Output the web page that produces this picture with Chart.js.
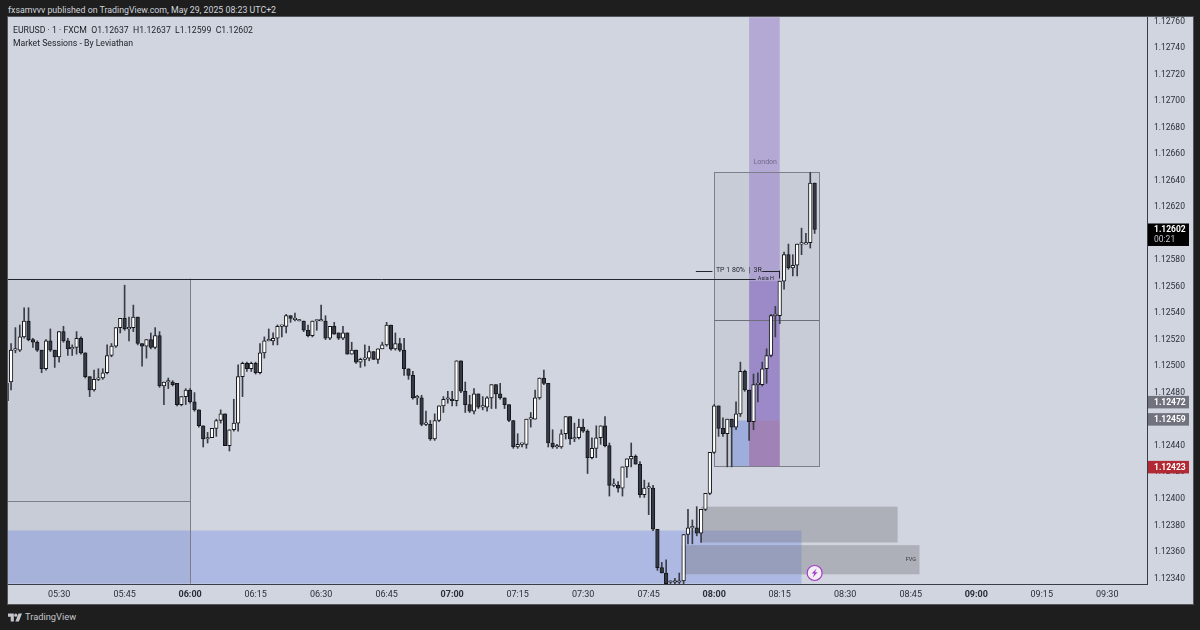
<!DOCTYPE html>
<html>
<head>
<meta charset="utf-8">
<title>EURUSD 1</title>
<script src="https://cdn.jsdelivr.net/npm/chart.js@4"></script>
<style>
  html, body { margin: 0; padding: 0; background: #1e1e1e; width: 1200px; height: 630px; overflow: hidden; }
  #wrap { position: absolute; left: 8px; top: 17px; width: 1185px; height: 587px; background: #d1d5df; box-shadow: 0 0 0 1px rgba(120,123,134,.6); }
  #top { position: absolute; left: 8px; top: 5px; font: 8.8px Roboto, sans-serif; color: #d1d4dc; white-space: nowrap; }
  .legend { position: absolute; left: 13px; font: 8.7px Roboto, sans-serif; color: #1c1f26; white-space: pre; }
  #brand { position: absolute; left: 8px; top: 611px; height: 13px; color: #c4c6cc; font: 9.3px Roboto, sans-serif; white-space: nowrap; }
  #brand svg { vertical-align: -2px; margin-right: 3px; }
</style>
</head>
<body>
<div id="wrap"><canvas id="myChart" width="1185" height="587"></canvas></div>
<div id="top">fxsamvvv published on TradingView.com, May 29, 2025 08:23 UTC+2</div>
<div class="legend" style="top:25px">EURUSD · 1 · FXCM  O1.12637  H1.12637  L1.12599  C1.12602</div>
<div class="legend" style="top:38px">Market Sessions - By Leviathan</div>
<div id="brand"><svg width="14" height="9" viewBox="0 0 36 20" fill="#c4c6cc"><path d="M0 0h15v20H7V8H0z"/><circle cx="20" cy="4" r="4"/><path d="M27 0h9l-8 20h-9z"/></svg>TradingView</div>
<script>
// 1 minute candles, first one is 05:18
var firstMinute = 318;
var opens = [
	1.12473,1.12487,1.12511,1.12511,1.12521,1.12533,1.12519,1.12517,1.12511,1.12497,
	1.12518,1.12511,1.12506,1.12525,1.12518,1.12512,1.12513,1.12520,1.12509,1.12491,
	1.12481,1.12489,1.12490,1.12494,1.12507,1.12514,1.12528,1.12535,1.12527,1.12528,
	1.12536,1.12516,1.12514,1.12519,1.12513,1.12522,1.12484,1.12487,1.12487,1.12486,
	1.12470,1.12476,1.12481,1.12472,1.12466,1.12454,1.12444,1.12445,1.12452,1.12458,
	1.12463,1.12439,1.12451,1.12456,1.12491,1.12501,1.12497,1.12501,1.12494,1.12509,
	1.12518,1.12518,1.12520,1.12529,1.12529,1.12537,1.12534,1.12533,1.12533,1.12526,
	1.12522,1.12533,1.12533,1.12533,1.12520,1.12529,1.12524,1.12520,1.12524,1.12508,
	1.12511,1.12502,1.12504,1.12505,1.12510,1.12504,1.12512,1.12515,1.12530,1.12512,
	1.12516,1.12511,1.12497,1.12492,1.12475,1.12475,1.12455,1.12455,1.12444,1.12458,
	1.12469,1.12474,1.12474,1.12473,1.12503,1.12480,1.12470,1.12465,1.12478,1.12468,
	1.12468,1.12475,1.12485,1.12478,1.12475,1.12470,1.12458,1.12438,1.12440,1.12440,
	1.12459,1.12459,1.12475,1.12490,1.12486,1.12441,1.12438,1.12438,1.12448,1.12461,
	1.12444,1.12445,1.12453,1.12450,1.12430,1.12437,1.12445,1.12454,1.12439,1.12409,
	1.12409,1.12407,1.12423,1.12429,1.12431,1.12425,1.12402,1.12407,1.12407,1.12376,
	1.12347,1.12343,1.12336,1.12336,1.12336,1.12337,1.12372,1.12377,1.12377,1.12373,
	1.12391,1.12403,1.12434,1.12469,1.12452,1.12448,1.12459,1.12453,1.12463,1.12495,
	1.12481,1.12457,1.12485,1.12485,1.12497,1.12507,1.12537,1.12537,1.12563,1.12583,
	1.12573,1.12575,1.12591,1.12591,1.12592,1.12637
];
var highs = [
	1.12490,1.12516,1.12528,1.12530,1.12543,1.12543,1.12520,1.12518,1.12511,1.12519,
	1.12527,1.12511,1.12525,1.12529,1.12520,1.12515,1.12525,1.12521,1.12509,1.12491,
	1.12496,1.12497,1.12497,1.12515,1.12516,1.12528,1.12535,1.12560,1.12536,1.12545,
	1.12536,1.12516,1.12519,1.12524,1.12528,1.12525,1.12487,1.12490,1.12488,1.12486,
	1.12476,1.12482,1.12482,1.12479,1.12466,1.12454,1.12449,1.12452,1.12459,1.12466,
	1.12463,1.12451,1.12474,1.12500,1.12502,1.12502,1.12502,1.12502,1.12516,1.12521,
	1.12527,1.12524,1.12530,1.12530,1.12538,1.12537,1.12539,1.12534,1.12533,1.12530,
	1.12533,1.12533,1.12545,1.12537,1.12529,1.12532,1.12524,1.12529,1.12524,1.12517,
	1.12511,1.12505,1.12515,1.12514,1.12510,1.12512,1.12517,1.12532,1.12530,1.12524,
	1.12520,1.12520,1.12497,1.12495,1.12477,1.12477,1.12465,1.12458,1.12463,1.12469,
	1.12476,1.12480,1.12480,1.12503,1.12503,1.12487,1.12477,1.12482,1.12478,1.12476,
	1.12476,1.12485,1.12485,1.12486,1.12475,1.12470,1.12458,1.12448,1.12441,1.12459,
	1.12464,1.12481,1.12490,1.12496,1.12486,1.12451,1.12440,1.12451,1.12461,1.12461,
	1.12456,1.12459,1.12459,1.12451,1.12445,1.12454,1.12454,1.12461,1.12441,1.12414,
	1.12412,1.12423,1.12429,1.12441,1.12432,1.12427,1.12413,1.12411,1.12409,1.12376,
	1.12351,1.12353,1.12337,1.12339,1.12343,1.12372,1.12391,1.12383,1.12393,1.12391,
	1.12403,1.12434,1.12470,1.12469,1.12460,1.12459,1.12459,1.12472,1.12502,1.12496,
	1.12481,1.12493,1.12494,1.12502,1.12512,1.12538,1.12544,1.12563,1.12585,1.12591,
	1.12583,1.12591,1.12603,1.12599,1.12645,1.12637
];
var lows = [
	1.12472,1.12481,1.12509,1.12510,1.12520,1.12518,1.12513,1.12510,1.12494,1.12496,
	1.12510,1.12498,1.12502,1.12517,1.12507,1.12507,1.12508,1.12508,1.12490,1.12476,
	1.12480,1.12488,1.12489,1.12493,1.12506,1.12513,1.12524,1.12526,1.12518,1.12525,
	1.12515,1.12499,1.12505,1.12512,1.12512,1.12483,1.12470,1.12482,1.12484,1.12469,
	1.12469,1.12470,1.12471,1.12465,1.12453,1.12438,1.12441,1.12445,1.12446,1.12456,
	1.12439,1.12435,1.12450,1.12450,1.12476,1.12495,1.12495,1.12493,1.12493,1.12505,
	1.12518,1.12515,1.12515,1.12521,1.12524,1.12532,1.12533,1.12533,1.12525,1.12521,
	1.12521,1.12526,1.12533,1.12519,1.12519,1.12523,1.12519,1.12519,1.12508,1.12508,
	1.12501,1.12498,1.12499,1.12503,1.12504,1.12501,1.12512,1.12514,1.12511,1.12511,
	1.12510,1.12492,1.12489,1.12474,1.12470,1.12454,1.12454,1.12443,1.12443,1.12457,
	1.12464,1.12471,1.12469,1.12469,1.12479,1.12464,1.12464,1.12463,1.12467,1.12466,
	1.12465,1.12467,1.12467,1.12474,1.12467,1.12457,1.12437,1.12437,1.12438,1.12437,
	1.12453,1.12459,1.12474,1.12485,1.12438,1.12437,1.12437,1.12437,1.12444,1.12440,
	1.12442,1.12444,1.12449,1.12418,1.12429,1.12430,1.12440,1.12438,1.12401,1.12408,
	1.12404,1.12401,1.12415,1.12423,1.12425,1.12400,1.12400,1.12387,1.12375,1.12345,
	1.12343,1.12335,1.12335,1.12335,1.12335,1.12335,1.12365,1.12365,1.12371,1.12366,
	1.12390,1.12402,1.12433,1.12446,1.12446,1.12423,1.12423,1.12451,1.12461,1.12480,
	1.12443,1.12451,1.12472,1.12484,1.12486,1.12506,1.12521,1.12531,1.12557,1.12572,
	1.12567,1.12567,1.12583,1.12591,1.12588,1.12599
];
var closes = [
	1.12486,1.12511,1.12511,1.12521,1.12533,1.12519,1.12517,1.12511,1.12497,1.12518,
	1.12511,1.12506,1.12525,1.12518,1.12512,1.12513,1.12520,1.12509,1.12491,1.12481,
	1.12489,1.12490,1.12494,1.12507,1.12514,1.12528,1.12535,1.12527,1.12528,1.12536,
	1.12516,1.12514,1.12519,1.12513,1.12522,1.12484,1.12487,1.12487,1.12485,1.12470,
	1.12476,1.12481,1.12472,1.12466,1.12454,1.12444,1.12445,1.12452,1.12458,1.12463,
	1.12439,1.12451,1.12456,1.12491,1.12501,1.12497,1.12501,1.12494,1.12509,1.12518,
	1.12518,1.12520,1.12529,1.12529,1.12537,1.12535,1.12534,1.12533,1.12526,1.12522,
	1.12533,1.12533,1.12533,1.12520,1.12529,1.12523,1.12520,1.12524,1.12508,1.12511,
	1.12502,1.12504,1.12505,1.12510,1.12504,1.12512,1.12515,1.12530,1.12512,1.12516,
	1.12511,1.12497,1.12492,1.12475,1.12475,1.12455,1.12455,1.12444,1.12458,1.12469,
	1.12474,1.12474,1.12473,1.12503,1.12480,1.12470,1.12465,1.12478,1.12468,1.12468,
	1.12475,1.12485,1.12478,1.12475,1.12470,1.12458,1.12438,1.12440,1.12440,1.12459,
	1.12459,1.12475,1.12490,1.12486,1.12441,1.12438,1.12438,1.12448,1.12461,1.12444,
	1.12445,1.12453,1.12450,1.12430,1.12437,1.12445,1.12454,1.12439,1.12409,1.12409,
	1.12407,1.12423,1.12429,1.12431,1.12425,1.12402,1.12407,1.12407,1.12376,1.12347,
	1.12343,1.12335,1.12336,1.12336,1.12337,1.12372,1.12377,1.12377,1.12373,1.12391,
	1.12403,1.12434,1.12469,1.12452,1.12448,1.12459,1.12453,1.12463,1.12495,1.12481,
	1.12457,1.12485,1.12485,1.12497,1.12507,1.12537,1.12537,1.12563,1.12583,1.12573,
	1.12575,1.12591,1.12591,1.12592,1.12637,1.12602
];

var priceTicks = [1.1234,1.1236,1.1238,1.124,1.1242,1.1244,1.1246,1.1248,1.125,1.1252,1.1254,1.1256,1.1258,1.126,1.1262,1.1264,1.1266,1.1268,1.127,1.1272,1.1274,1.1276];
var timeTicks = [330,345,360,375,390,405,420,435,450,465,480,495,510,525,540,555,570];
var timeLabels = ['05:30','05:45','06:00','06:15','06:30','06:45','07:00','07:15','07:30','07:45','08:00','08:15','08:30','08:45','09:00','09:15','09:30'];

// price labels on the axis
var lastPrice = 1.12602;
var markerPrices = [1.12472, 1.12459, 1.12423];

// drawings, all in [start minute, end minute, top price, bottom price]
var asiaBox = [318, 360, 1.12565, 1.12335];
var asiaMid = 1.12397;
var blueZone = [318, 500, 1.12375, 1.12335];
var setupBox = [480, 504, 1.12645, 1.12423];
var setupMid = 1.12534;
var londonBox = [488, 495, 1.12762, 1.12423];
var londonDark = [488, 495, 1.12563, 1.12423];
var londonRed = [488, 495, 1.12458, 1.12423];
var blueStop = [484, 488, 1.12458, 1.12423];
var fvgBoxes = [[477, 522, 1.12393, 1.12366], [472.5, 527, 1.12364, 1.12342]];
var tpPrice = 1.12571;
var asiaHighEnd = 489.5;

var wickData = [], upData = [], downData = [];
for (var i = 0; i < opens.length; i++) {
	var m = firstMinute + i;
	wickData.push({ x: m, y: [lows[i], highs[i]] });
	if (closes[i] >= opens[i]) {
		upData.push({ x: m, y: [opens[i], closes[i]] });
	} else {
		downData.push({ x: m, y: [closes[i], opens[i]] });
	}
}

function rect(ctx, s, box, fill, stroke) {
	var x1 = s.x.getPixelForValue(box[0]), x2 = s.x.getPixelForValue(box[1]);
	var y1 = s.y.getPixelForValue(box[2]), y2 = s.y.getPixelForValue(box[3]);
	if (fill) { ctx.fillStyle = fill; ctx.fillRect(x1, y1, x2 - x1, y2 - y1); }
	if (stroke) { ctx.strokeStyle = stroke; ctx.lineWidth = 1; ctx.strokeRect(Math.round(x1) + .5, Math.round(y1) + .5, Math.round(x2 - x1), Math.round(y2 - y1)); }
}

function hline(ctx, s, price, m1, m2, color) {
	var y = Math.round(s.y.getPixelForValue(price)) + .5;
	ctx.strokeStyle = color;
	ctx.lineWidth = 1;
	ctx.beginPath();
	ctx.moveTo(s.x.getPixelForValue(m1), y);
	ctx.lineTo(s.x.getPixelForValue(m2), y);
	ctx.stroke();
}

var drawings = {
	id: 'drawings',
	beforeDatasetsDraw(chart) {
		var ctx = chart.ctx, s = chart.scales, a = chart.chartArea;
		ctx.save();
		ctx.beginPath();
		ctx.rect(a.left, a.top, a.width, a.height);
		ctx.clip();
		rect(ctx, s, asiaBox, 'rgba(120,125,140,0.1)');
		rect(ctx, s, blueZone, 'rgba(66,103,235,0.25)');
		// session right edge and mid line
		var xe = Math.round(s.x.getPixelForValue(asiaBox[1])) + .5;
		ctx.strokeStyle = '#7c7f8a';
		ctx.lineWidth = 1;
		ctx.beginPath();
		ctx.moveTo(xe, s.y.getPixelForValue(asiaBox[2]));
		ctx.lineTo(xe, s.y.getPixelForValue(asiaBox[3]));
		ctx.stroke();
		hline(ctx, s, asiaMid, asiaBox[0], asiaBox[1], '#7c7f8a');
		rect(ctx, s, setupBox, 'rgba(120,125,140,0.1)');
		rect(ctx, s, londonBox, 'rgba(126,87,194,0.35)');
		rect(ctx, s, londonDark, 'rgba(100,60,170,0.25)');
		rect(ctx, s, londonRed, 'rgba(200,80,60,0.13)');
		rect(ctx, s, blueStop, 'rgba(66,103,235,0.3)');
		rect(ctx, s, setupBox, null, '#7c7f8a');
		hline(ctx, s, setupMid, setupBox[0], setupBox[1], '#6c6f7a');
		fvgBoxes.forEach(function(b) { rect(ctx, s, b, 'rgba(110,110,115,0.35)'); });
		// asia high and tp line
		hline(ctx, s, asiaBox[2], asiaBox[0], asiaHighEnd, '#23262e');
		hline(ctx, s, tpPrice, 475.8, 479.6, '#23262e');
		hline(ctx, s, tpPrice, 491, 494.9, '#23262e');
		var xt = Math.round(s.x.getPixelForValue(494.9)) + .5;
		ctx.strokeStyle = '#23262e';
		ctx.beginPath();
		ctx.moveTo(xt, s.y.getPixelForValue(tpPrice));
		ctx.lineTo(xt, s.y.getPixelForValue(asiaBox[2]));
		ctx.stroke();
		ctx.restore();
	},
	afterDatasetsDraw(chart) {
		var ctx = chart.ctx, s = chart.scales, a = chart.chartArea;
		ctx.save();
		ctx.textBaseline = 'middle';
		// texts on the chart
		ctx.textAlign = 'left';
		ctx.fillStyle = '#23262e';
		ctx.font = '7px Roboto, sans-serif';
		ctx.fillText('TP 1 80%  |  3R', s.x.getPixelForValue(480.4), s.y.getPixelForValue(tpPrice));
		ctx.font = '5.5px Roboto, sans-serif';
		ctx.fillText('Asia H', s.x.getPixelForValue(490), s.y.getPixelForValue(asiaBox[2]));
		ctx.fillStyle = '#6f6a8c';
		ctx.font = '7px Roboto, sans-serif';
		ctx.fillText('London', s.x.getPixelForValue(489), s.y.getPixelForValue(1.12653));
		ctx.fillStyle = '#33353c';
		ctx.font = '5.5px Roboto, sans-serif';
		ctx.textAlign = 'right';
		ctx.fillText('FVG', s.x.getPixelForValue(526.2), s.y.getPixelForValue(1.12353));

		// lightning icon after the last candle
		var ix = s.x.getPixelForValue(firstMinute + opens.length - 1), iy = s.y.getPixelForValue(1.12343);
		ctx.beginPath();
		ctx.arc(ix, iy, 7.5, 0, Math.PI * 2);
		ctx.fillStyle = '#f3eef6';
		ctx.fill();
		ctx.lineWidth = 1.2;
		ctx.strokeStyle = '#a23cc4';
		ctx.stroke();
		ctx.fillStyle = '#a23cc4';
		ctx.beginPath();
		ctx.moveTo(ix + 2, iy - 4.5);
		ctx.lineTo(ix - 3, iy + .5);
		ctx.lineTo(ix - .3, iy + .5);
		ctx.lineTo(ix - 2, iy + 4.5);
		ctx.lineTo(ix + 3, iy - .8);
		ctx.lineTo(ix + .3, iy - .8);
		ctx.closePath();
		ctx.fill();

		// price scale text sits a bit under its tick, so it is drawn here
		ctx.textAlign = 'left';
		ctx.fillStyle = '#2a2e39';
		ctx.font = '8.5px Roboto, sans-serif';
		priceTicks.forEach(function(p) {
			ctx.fillText(p.toFixed(5), a.right + 7, s.y.getPixelForValue(p) + 1.5);
		});

		// price labels
		ctx.font = 'bold 8.5px Roboto, sans-serif';
		var colors = ['#70737e', '#70737e', '#b22833'];
		markerPrices.forEach(function(p, n) {
			var y = s.y.getPixelForValue(p);
			ctx.fillStyle = colors[n];
			ctx.fillRect(a.right + 1, y - 6, 41, 12.5);
			ctx.fillStyle = '#ffffff';
			ctx.fillText(p.toFixed(5), a.right + 7, y + .5);
		});
		var ly = s.y.getPixelForValue(lastPrice);
		ctx.fillStyle = '#000000';
		ctx.fillRect(a.right + 1, ly - 6, 41, 22.5);
		ctx.fillStyle = '#ffffff';
		ctx.fillText(lastPrice.toFixed(5), a.right + 7, ly + .5);
		ctx.fillStyle = '#c4c6cc';
		ctx.font = '8.5px Roboto, sans-serif';
		ctx.fillText('00:21', a.right + 7, ly + 10.5);
		ctx.restore();
	}
};

var myChart = new Chart(document.getElementById('myChart'), {
	type: 'bar',
	data: {
		datasets: [
			{ label: 'wick', data: wickData, grouped: false, barThickness: 1, backgroundColor: '#3a3d46', borderWidth: 0, order: 3 },
			{ label: 'up', data: upData, grouped: false, barThickness: 3.6, minBarLength: 1.5, backgroundColor: '#ffffff', borderColor: '#14161b', borderWidth: 1, borderSkipped: false, order: 2 },
			{ label: 'down', data: downData, grouped: false, barThickness: 3.6, minBarLength: 1.5, backgroundColor: '#363a45', borderColor: '#14161b', borderWidth: 1, borderSkipped: false, order: 1 }
		]
	},
	options: {
		responsive: false,
		animation: false,
		devicePixelRatio: 1,
		layout: { padding: 0 },
		plugins: { legend: { display: false }, tooltip: { enabled: false } },
		scales: {
			x: {
				type: 'linear',
				min: 318.3,
				max: 579.1,
				offset: false,
				grid: { display: false },
				border: { color: '#3a3d46', width: 1 },
				afterBuildTicks(axis) { axis.ticks = timeTicks.map(function(v) { return { value: v }; }); },
				afterFit(axis) { axis.height = 20; axis.paddingLeft = 0; axis.paddingRight = 0; },
				ticks: {
					autoSkip: false,
					maxRotation: 0,
					padding: -3,
					color: '#2a2e39',
					font: function(c) {
						var hour = c.tick && c.tick.value % 60 == 0;
						return { family: 'Roboto, sans-serif', size: 9, weight: hour ? 'bold' : 'normal' };
					},
					callback: function(v) { return timeLabels[timeTicks.indexOf(v)]; }
				}
			},
			y: {
				position: 'right',
				min: 1.123347,
				max: 1.127622,
				grid: { display: false },
				border: { color: '#3a3d46', width: 1 },
				afterBuildTicks(axis) { axis.ticks = priceTicks.map(function(v) { return { value: v }; }); },
				afterFit(axis) { axis.width = 46; axis.paddingTop = 0; axis.paddingBottom = 0; },
				ticks: { display: false }
			}
		}
	},
	plugins: [drawings]
});
</script>
</body>
</html>
